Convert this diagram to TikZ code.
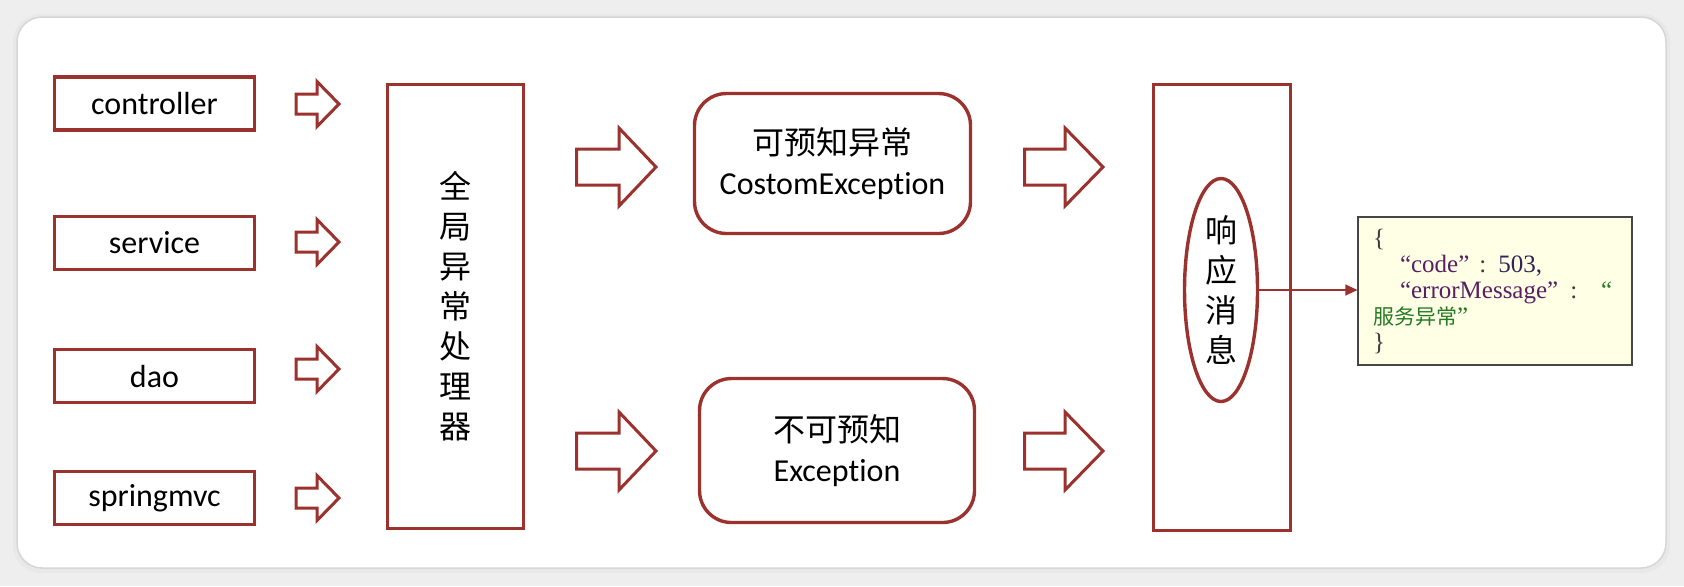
\documentclass[tikz,border=0pt]{standalone}
\usepackage{fontspec}
\setmainfont{Carlito}[RawFeature=-liga]
\newfontfamily\cjk{Noto Sans CJK SC}
\newfontfamily\jsonfont{Liberation Serif}
\usetikzlibrary{shapes.geometric,arrows.meta}

\definecolor{boxred}{RGB}{155,50,46}
\definecolor{pagegray}{RGB}{238,238,238}
\definecolor{jsonbg}{RGB}{255,255,230}
\definecolor{jsonframe}{RGB}{70,70,70}
\definecolor{jsondark}{RGB}{60,60,60}
\definecolor{jsonkey}{RGB}{88,32,98}
\definecolor{jsonnum}{RGB}{48,36,86}
\definecolor{jsongreen}{RGB}{36,122,36}

\tikzset{every picture/.style={line width=0.75pt},
	redbox/.style={draw=boxred, line width=1.7pt, inner sep=0pt, font=\fontsize{16}{20}\selectfont},
	roundbox/.style={redbox, rounded corners=16pt, align=center},
	vtext/.style={align=center, font=\cjk\fontsize{16}{20}\selectfont},
	blockarrow/.style={draw=boxred, line width=1.5pt, line join=miter},
}

\begin{document}
\begin{tikzpicture}[x=0.5pt,y=0.5pt,yscale=-1,xscale=1]
	\useasboundingbox (0,0) rectangle (1684,586);

	%Shape: Background card
	\fill [pagegray] (0,0) rectangle (1684,586);
	\fill [black!9, rounded corners=14pt] (13,14) rectangle (1670,573);
	\draw [draw=black!16, fill=white, rounded corners=12.5pt] (17,17) rectangle (1666,568);

	%Shape: Rectangle
	\node (ctrl) [redbox, minimum width=100pt, minimum height=26.5pt] at (154.5,103.5) {controller};
	%Shape: Rectangle
	\node (svc) [redbox, minimum width=100pt, minimum height=26.5pt] at (154.5,243) {service};
	%Shape: Rectangle
	\node (dao) [redbox, minimum width=100pt, minimum height=26.5pt] at (154.5,376) {dao};
	%Shape: Rectangle
	\node (mvc) [redbox, minimum width=100pt, minimum height=26.5pt] at (154.5,498) {springmvc};

	%Right Arrow
	\draw [blockarrow] (296,94) -- (317,94) -- (317,81.5) -- (339,104) -- (317,126.5) -- (317,114) -- (296,114) -- cycle ;
	%Right Arrow
	\draw [blockarrow] (296,232) -- (317,232) -- (317,219.5) -- (339,242) -- (317,264.5) -- (317,252) -- (296,252) -- cycle ;
	%Right Arrow
	\draw [blockarrow] (296,359) -- (317,359) -- (317,346.5) -- (339,369) -- (317,391.5) -- (317,379) -- (296,379) -- cycle ;
	%Right Arrow
	\draw [blockarrow] (296,488) -- (317,488) -- (317,475.5) -- (339,498) -- (317,520.5) -- (317,508) -- (296,508) -- cycle ;

	%Shape: Rectangle
	\node (handler) [redbox, minimum width=68pt, minimum height=222pt, vtext] at (455.5,306.5) {全\\局\\异\\常\\处\\理\\器};

	%Right Arrow
	\draw [blockarrow] (576.5,149) -- (619,149) -- (619,128) -- (656,167) -- (619,206) -- (619,185) -- (576.5,185) -- cycle ;
	%Right Arrow
	\draw [blockarrow] (576.5,433) -- (619,433) -- (619,412) -- (656,451) -- (619,490) -- (619,469) -- (576.5,469) -- cycle ;

	%Rounded Rect
	\node (known) [roundbox, minimum width=138pt, minimum height=70pt] at (832.5,163.5) {{\cjk 可预知异常}\\CostomException};
	%Rounded Rect
	\node (unknown) [roundbox, minimum width=137.5pt, minimum height=72pt] at (837,450.5) {{\cjk 不可预知}\\Exception};

	%Right Arrow
	\draw [blockarrow] (1024.5,149) -- (1065,149) -- (1065,128) -- (1103,167) -- (1065,206) -- (1065,185) -- (1024.5,185) -- cycle ;
	%Right Arrow
	\draw [blockarrow] (1024.5,433) -- (1065,433) -- (1065,412) -- (1103,451) -- (1065,490) -- (1065,469) -- (1024.5,469) -- cycle ;

	%Shape: Rectangle
	\node (resp) [redbox, minimum width=68.5pt, minimum height=223pt] at (1222,307.5) {};
	%Shape: Ellipse
	\node (msg) [ellipse, draw=boxred, line width=1.7pt, inner sep=0pt, minimum width=36.5pt, minimum height=111.5pt, vtext] at (1221,290) {响\\应\\消\\息};

	% Text Node
	\node (json) [draw=jsonframe, fill=jsonbg, line width=0.6pt, text width=122pt, inner xsep=7.5pt, inner ysep=0pt, minimum height=74pt, align=left, font=\jsonfont\fontsize{12.5}{13}\selectfont] at (1495,291) {%
		{\color{jsondark}\{}\\
		\hspace*{13.5pt}{\color{jsonkey}“code”}\hspace{5pt}{\color{jsondark}:}\hspace{6pt}{\color{jsonnum}503,}\\
		\hspace*{13.5pt}{\color{jsonkey}“errorMessage”}\hspace{6pt}{\color{jsondark}:}\hspace{12pt}{\color{jsongreen}“}\\
		{\color{jsongreen}{\cjk\fontsize{10.5}{13}\selectfont 服务异常}”}\\
		{\color{jsondark}\}}};

	%Straight Lines
	\draw [boxred, line width=0.6pt, -{Triangle[length=6pt,width=5.5pt]}] (msg.east) -- (msg.east -| json.west) ;

\end{tikzpicture}
\end{document}
